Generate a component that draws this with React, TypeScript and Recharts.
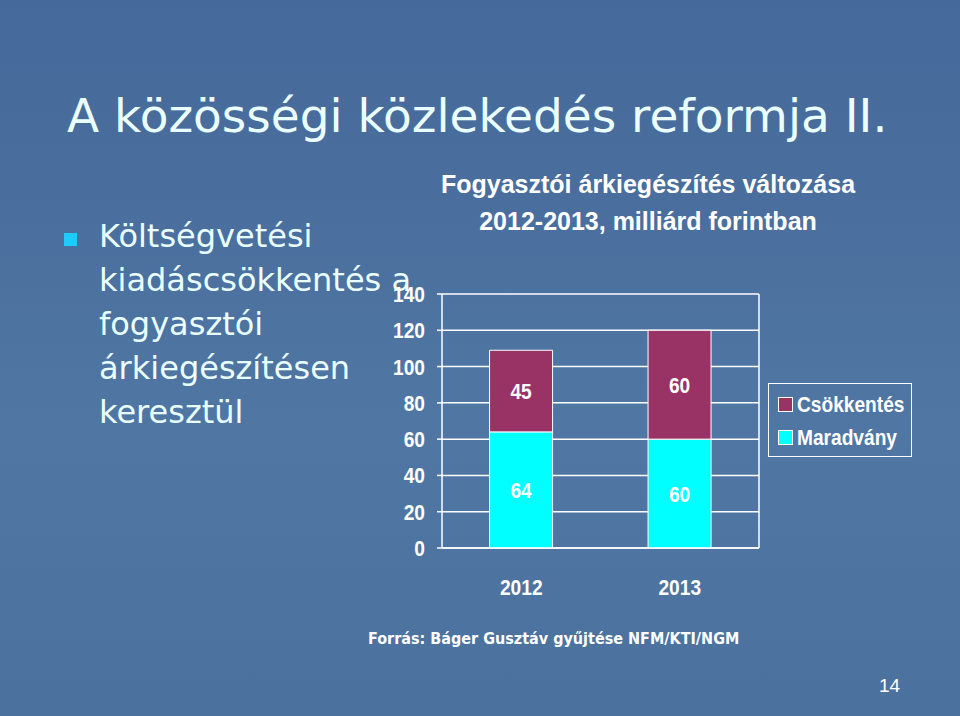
import { Bar, BarChart, CartesianGrid, LabelList, XAxis, YAxis } from 'recharts';

// Fogyasztói árkiegészítés, milliárd Ft
const evek = ['2012', '2013'];
const maradvany = [64, 60];
const csokkentes = [45, 60];
const yTicks = [0, 20, 40, 60, 80, 100, 120, 140];

const sorozatok = [
  { kulcs: 'csokkentes', nev: 'Csökkentés', szin: '#993366' },
  { kulcs: 'maradvany', nev: 'Maradvány', szin: '#00ffff' },
];

const ARIAL = '"Liberation Sans", Arial, sans-serif';
const TAHOMA = '"DejaVu Sans", Tahoma, sans-serif';
const TAHOMA_SZUK = '"DejaVu Sans Condensed", "DejaVu Sans", Tahoma, sans-serif';
// Arial Narrow nincs, ezért a Liberation Sans-t nyomjuk össze vízszintesen
const SZUKITES = 0.87;

const adatok = evek.map((ev, i) => ({ ev, maradvany: maradvany[i], csokkentes: csokkentes[i] }));

const bulletSorok = ['Költségvetési', 'kiadáscsökkentés a', 'fogyasztói', 'árkiegészítésen', 'keresztül'];

function SzukSzoveg({ x, y, anchor, children }: { x: number; y: number; anchor: string; children: any }) {
  return (
    <text
      transform={`translate(${x},${y}) scale(${SZUKITES},1)`}
      textAnchor={anchor}
      dominantBaseline="central"
      fill="#ffffff"
      fontFamily={ARIAL}
      fontWeight={700}
      fontSize={22}
    >
      {children}
    </text>
  );
}

const YTick = (props: any) => (
  <SzukSzoveg x={props.x} y={props.y} anchor="end">
    {props.payload.value}
  </SzukSzoveg>
);

const XTick = (props: any) => (
  <SzukSzoveg x={props.x} y={props.y + 10} anchor="middle">
    {props.payload.value}
  </SzukSzoveg>
);

const SavCimke = (props: any) => (
  <SzukSzoveg x={props.x + props.width / 2} y={props.y + props.height / 2} anchor="middle">
    {props.value}
  </SzukSzoveg>
);

export default function App() {
  const feher = '#ffffff';

  return (
    <div
      style={{
        position: 'absolute',
        left: 0,
        top: 0,
        width: 960,
        height: 716,
        overflow: 'hidden',
        background: 'linear-gradient(180deg, #45699a 0%, #4a6f9e 30%, #5077a4 60%, #4b719e 100%)',
        fontFamily: TAHOMA,
        color: '#eaffff',
      }}
    >
      <div style={{ position: 'absolute', left: 67, top: 88, fontSize: 47, whiteSpace: 'nowrap', lineHeight: '56px' }}>
        A közösségi közlekedés reformja II.
      </div>

      <div style={{ position: 'absolute', left: 64, top: 233, width: 13, height: 13, background: '#1ecbff' }} />
      <div style={{ position: 'absolute', left: 99, top: 214, fontSize: 32, lineHeight: '44px', whiteSpace: 'nowrap' }}>
        {bulletSorok.map((s) => (
          <div key={s}>{s}</div>
        ))}
      </div>

      <div
        style={{
          position: 'absolute',
          left: 648 - 250,
          top: 166,
          width: 500,
          textAlign: 'center',
          fontFamily: ARIAL,
          fontWeight: 700,
          fontSize: 25,
          lineHeight: '37px',
          color: feher,
        }}
      >
        <div>Fogyasztói árkiegészítés változása</div>
        <div>2012-2013, milliárd forintban</div>
      </div>

      <div style={{ position: 'absolute', left: 360, top: 270 }}>
        <BarChart
          width={400}
          height={336}
          data={adatok}
          margin={{ top: 24, right: 0, left: 0, bottom: 0 }}
          barCategoryGap="30%"
        >
          <CartesianGrid
            xAxisId="b"
            yAxisId="left"
            vertical={false}
            stroke={feher}
            strokeWidth={1.5}
          />
          {/* osztásjelek a kategóriahatárokon, közvetlenül a rajzterület alatt */}
          <XAxis
            xAxisId="a"
            type="number"
            domain={[0, 2]}
            ticks={[0, 1, 2]}
            allowDataOverflow
            tick={false}
            tickSize={6}
            tickLine={{ stroke: feher, strokeWidth: 1.5 }}
            axisLine={{ stroke: feher, strokeWidth: 1.5 }}
            height={8}
          />
          <XAxis
            xAxisId="b"
            dataKey="ev"
            axisLine={false}
            tickLine={false}
            tickSize={0}
            tickMargin={21}
            tick={<XTick />}
            height={50}
          />
          <YAxis
            yAxisId="left"
            domain={[0, 140]}
            ticks={yTicks}
            interval={0}
            width={82}
            tickSize={5}
            tickMargin={12}
            tick={<YTick />}
            tickLine={{ stroke: feher, strokeWidth: 1.5 }}
            axisLine={{ stroke: feher, strokeWidth: 1.5 }}
          />
          <YAxis
            yAxisId="right"
            orientation="right"
            domain={[0, 140]}
            allowDataOverflow
            width={1}
            tick={false}
            tickLine={false}
            axisLine={{ stroke: feher, strokeWidth: 1.5 }}
          />
          <Bar
            xAxisId="b"
            yAxisId="left"
            dataKey="maradvany"
            stackId="a"
            fill="#00ffff"
            stroke={feher}
            strokeWidth={1}
            isAnimationActive={false}
          >
            <LabelList dataKey="maradvany" content={<SavCimke />} />
          </Bar>
          <Bar
            xAxisId="b"
            yAxisId="left"
            dataKey="csokkentes"
            stackId="a"
            fill="#993366"
            stroke={feher}
            strokeWidth={1}
            isAnimationActive={false}
          >
            <LabelList dataKey="csokkentes" content={<SavCimke />} />
          </Bar>
        </BarChart>
      </div>

      <div
        style={{
          position: 'absolute',
          left: 768,
          top: 383,
          width: 144,
          height: 74,
          border: '1.5px solid #ffffff',
          fontFamily: ARIAL,
          fontWeight: 700,
          fontSize: 22,
          color: feher,
          paddingTop: 4,
          boxSizing: 'border-box',
        }}
      >
        {sorozatok.map((s) => (
          <div key={s.kulcs} style={{ display: 'flex', alignItems: 'center', height: 33, paddingLeft: 9 }}>
            <span
              style={{
                display: 'inline-block',
                flex: 'none',
                width: 13,
                height: 13,
                background: s.szin,
                border: '1px solid #ffffff',
                marginRight: 4,
              }}
            />
            <span
              style={{
                display: 'inline-block',
                whiteSpace: 'nowrap',
                transform: `scaleX(${SZUKITES})`,
                transformOrigin: 'left center',
              }}
            >
              {s.nev}
            </span>
          </div>
        ))}
      </div>

      <div
        style={{
          position: 'absolute',
          left: 368,
          top: 629,
          fontSize: 16,
          fontWeight: 700,
          fontFamily: TAHOMA_SZUK,
          whiteSpace: 'nowrap',
          color: feher,
        }}
      >
        Forrás: Báger Gusztáv gyűjtése NFM/KTI/NGM
      </div>

      <div
        style={{
          position: 'absolute',
          left: 879,
          top: 675,
          fontSize: 19,
          fontFamily: ARIAL,
          color: feher,
        }}
      >
        14
      </div>
    </div>
  );
}
